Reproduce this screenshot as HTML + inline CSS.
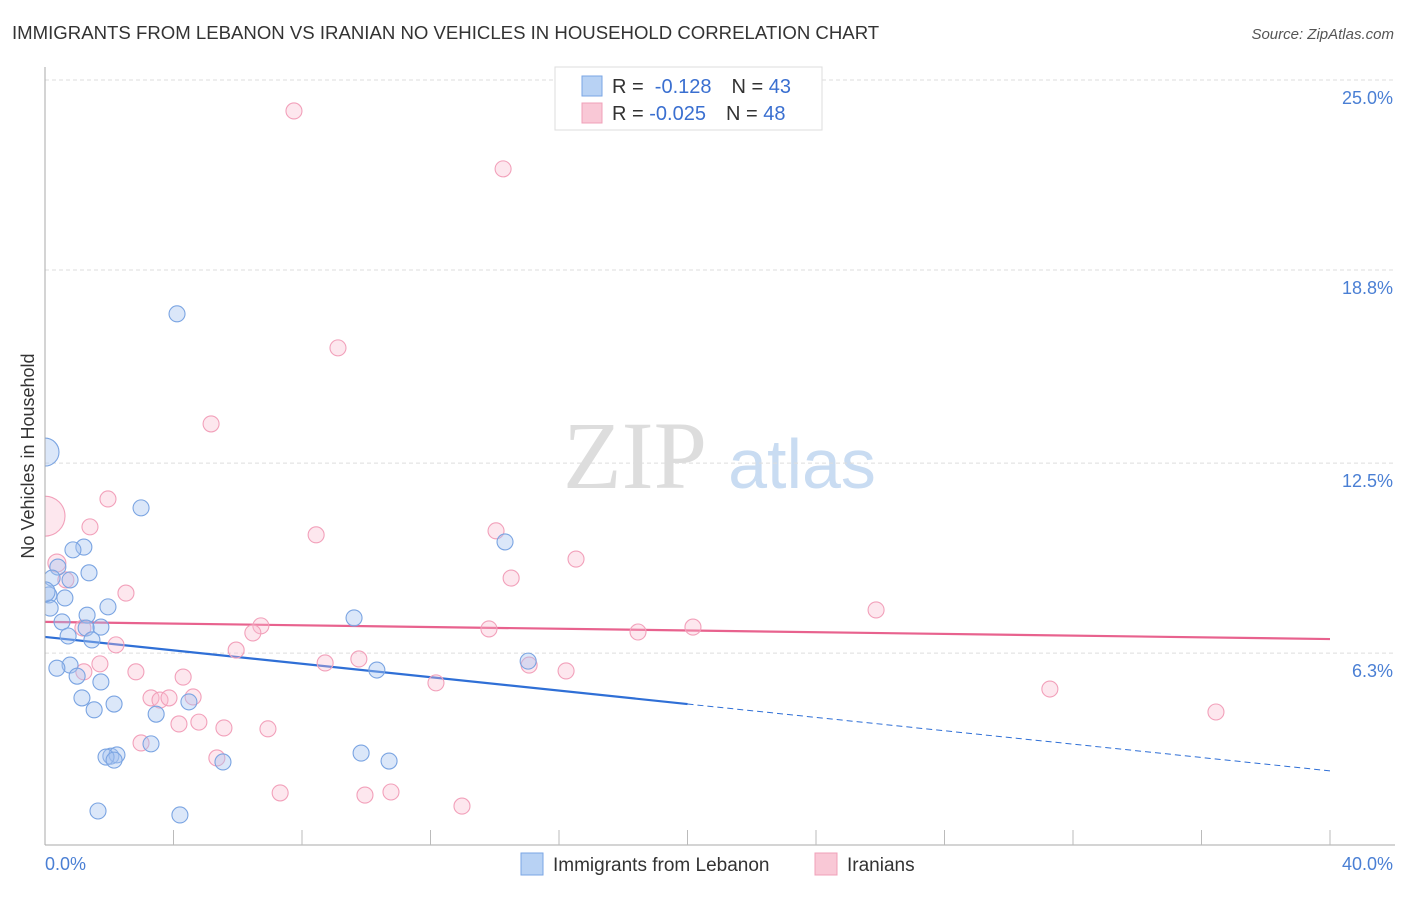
<!DOCTYPE html>
<html><head><meta charset="utf-8"><style>
body{margin:0;background:#fff;font-family:"Liberation Sans",sans-serif;}
</style></head><body>
<svg id="c" width="1406" height="892" xmlns="http://www.w3.org/2000/svg" style="font-family:'Liberation Sans',sans-serif">
<text x="12" y="39" font-size="18.6" fill="#333">IMMIGRANTS FROM LEBANON VS IRANIAN NO VEHICLES IN HOUSEHOLD CORRELATION CHART</text>
<text x="1394" y="39" font-size="15" fill="#555" font-style="italic" text-anchor="end">Source: ZipAtlas.com</text>
<g>
<text x="635" y="488" font-size="96" fill="#ddd" text-anchor="middle" font-family="Liberation Serif,serif">ZIP</text>
<text x="802" y="488" font-size="70" fill="#c9dcf2" text-anchor="middle">atlas</text>
</g>
<g id="grid"></g><g id="trend"></g>
<g id="pts"></g>
<rect x="0" y="60" width="45" height="785" fill="#fff"/>
<g id="axes"></g>
<text transform="translate(34,456) rotate(-90)" font-size="18" fill="#333" text-anchor="middle">No Vehicles in Household</text>
<g>
<rect x="555" y="67" width="267" height="63" fill="#fff" stroke="#ddd"/>
<rect x="582" y="76" width="20" height="20" fill="#b8d2f4" stroke="#7aa6e4"/>
<rect x="582" y="103" width="20" height="20" fill="#f9c8d6" stroke="#f0a0b8"/>
<text x="612" y="93" font-size="20" fill="#333">R = <tspan fill="#3a6fd0">&#160;-0.128</tspan><tspan dx="20" fill="#333">N = </tspan><tspan fill="#3a6fd0">43</tspan></text>
<text x="612" y="120" font-size="20" fill="#333">R = <tspan fill="#3a6fd0">-0.025</tspan><tspan dx="20" fill="#333">N = </tspan><tspan fill="#3a6fd0">48</tspan></text>
</g>
<g>
<rect x="521" y="853" width="22" height="22" fill="#b8d2f4" stroke="#7aa6e4"/>
<text x="553" y="871" font-size="19" fill="#333">Immigrants from Lebanon</text>
<rect x="815" y="853" width="22" height="22" fill="#f9c8d6" stroke="#f0a0b8"/>
<text x="847" y="871" font-size="19" fill="#333">Iranians</text>
</g>
</svg>
<script>
const yTicks=[25.0,18.8,12.5,6.3];
const yTickLabels=["25.0%","18.8%","12.5%","6.3%"];
const xTickLabels=["0.0%","40.0%"];
const blueX=[4.11,2.99,14.32,1.21,0.87,0.40,1.37,0.22,0.78,0.12,0.62,1.96,1.31,9.62,0.53,1.74,1.28,0.72,1.46,15.04,0.78,0.37,10.33,1.00,1.74,1.15,4.48,2.15,1.53,3.46,3.30,9.84,2.05,2.24,1.90,2.15,5.54,10.71,1.65,4.20,0,0.16,0];
const blueY=[17.37,11.04,9.93,9.76,9.67,9.11,8.92,8.75,8.69,8.20,8.10,7.81,7.54,7.45,7.32,7.15,7.12,6.86,6.73,6.04,5.91,5.81,5.75,5.55,5.36,4.84,4.71,4.64,4.45,4.31,3.34,3.04,2.94,2.98,2.91,2.81,2.75,2.78,1.15,1.02,12.86,7.77,8.30];
const blueR=[8,8,8,8,8,8,8,8,8,8,8,8,8,8,8,8,8,8,8,8,8,8,8,8,8,8,8,8,8,8,8,8,8,8,8,8,8,8,8,8,14,8,10];
const pinkX=[7.75,14.26,9.12,5.17,1.96,0,1.40,14.04,8.44,16.53,0.37,0.65,14.51,2.52,25.87,6.72,13.82,20.17,18.46,6.47,1.18,2.21,5.95,9.77,1.71,8.72,15.07,16.22,2.83,1.21,4.30,12.17,31.28,3.30,3.58,3.86,4.61,36.45,4.17,4.79,5.57,6.94,2.99,5.35,7.32,9.96,10.77,12.98];
const pinkY=[23.99,22.10,16.26,13.78,11.33,10.77,10.42,10.29,10.16,9.37,9.24,8.69,8.75,8.26,7.71,7.19,7.09,7.15,6.99,6.96,7.12,6.57,6.40,6.11,5.95,5.98,5.91,5.72,5.69,5.69,5.52,5.33,5.13,4.84,4.77,4.84,4.87,4.38,3.99,4.05,3.86,3.83,3.37,2.88,1.74,1.67,1.77,1.31];
const pinkR=[8,8,8,8,8,20,8,8,8,8,9,8,8,8,8,8,8,8,8,8,8,8,8,8,8,8,8,8,8,8,8,8,8,8,8,8,8,8,8,8,8,8,8,8,8,8,8,8];
const blueTrend=[6.83,4.64,2.46]; // at x=0,20,40
const pinkTrend=[7.32,6.76]; // at x=0,40
const NS="http://www.w3.org/2000/svg";
const xs=v=>45+v*32.125, ys=v=>80+(25-v)*30.65;
function mk(p,t,a){const e=document.createElementNS(NS,t);for(const k in a)e.setAttribute(k,a[k]);p.appendChild(e);return e;}
const grid=document.getElementById('grid'),axes=document.getElementById('axes'),trend=document.getElementById('trend'),pts=document.getElementById('pts');
yTicks.forEach((v,i)=>{
 const l=mk(grid,'line',{x1:45,x2:1395,y1:ys(v),y2:ys(v),stroke:'#ddd','stroke-dasharray':'4,3'});
 
 
 const t=mk(axes,'text',{x:1393,y:ys(v)+24,'font-size':18,fill:'#4a7fd4','text-anchor':'end'});t.textContent=yTickLabels[i];
 
 
});
const ya=mk(axes,'line',{x1:45,x2:45,y1:67,y2:845,stroke:'#aaa'});


const xa=mk(axes,'line',{x1:45,x2:1395,y1:845,y2:845,stroke:'#aaa'});


for(let v=4;v<=40;v+=4){const tk=mk(axes,'line',{x1:xs(v),x2:xs(v),y1:830,y2:845,stroke:'#bbb'});
 
 }
[[0,'start',45],[40,'end',1393]].forEach((d,i)=>{const t=mk(axes,'text',{x:d[2],y:870,'font-size':18,fill:'#4a7fd4','text-anchor':d[1]});t.textContent=xTickLabels[i];
 
 });
function dots(X,Y,R,fill,stroke,name){X.forEach((x,i)=>{const c=mk(pts,'circle',{cx:xs(x),cy:ys(Y[i]),r:R[i],fill:fill,stroke:stroke,'stroke-width':1.1});
 
 });}
dots(pinkX,pinkY,pinkR,'rgba(248,185,205,0.35)','#f2a0ba','point-iranians');
dots(blueX,blueY,blueR,'rgba(164,196,240,0.4)','#7aa4e2','point-lebanon');
const b1=mk(trend,'line',{x1:xs(0),y1:ys(blueTrend[0]),x2:xs(20),y2:ys(blueTrend[1]),stroke:'#2f6fd6','stroke-width':2.2});


const b2=mk(trend,'line',{x1:xs(20),y1:ys(blueTrend[1]),x2:xs(40),y2:ys(blueTrend[2]),stroke:'#2f6fd6','stroke-width':1,'stroke-dasharray':'6,4'});


const p1=mk(trend,'line',{x1:xs(0),y1:ys(pinkTrend[0]),x2:xs(40),y2:ys(pinkTrend[1]),stroke:'#e8628e','stroke-width':2.2});


</script>
</body></html>
